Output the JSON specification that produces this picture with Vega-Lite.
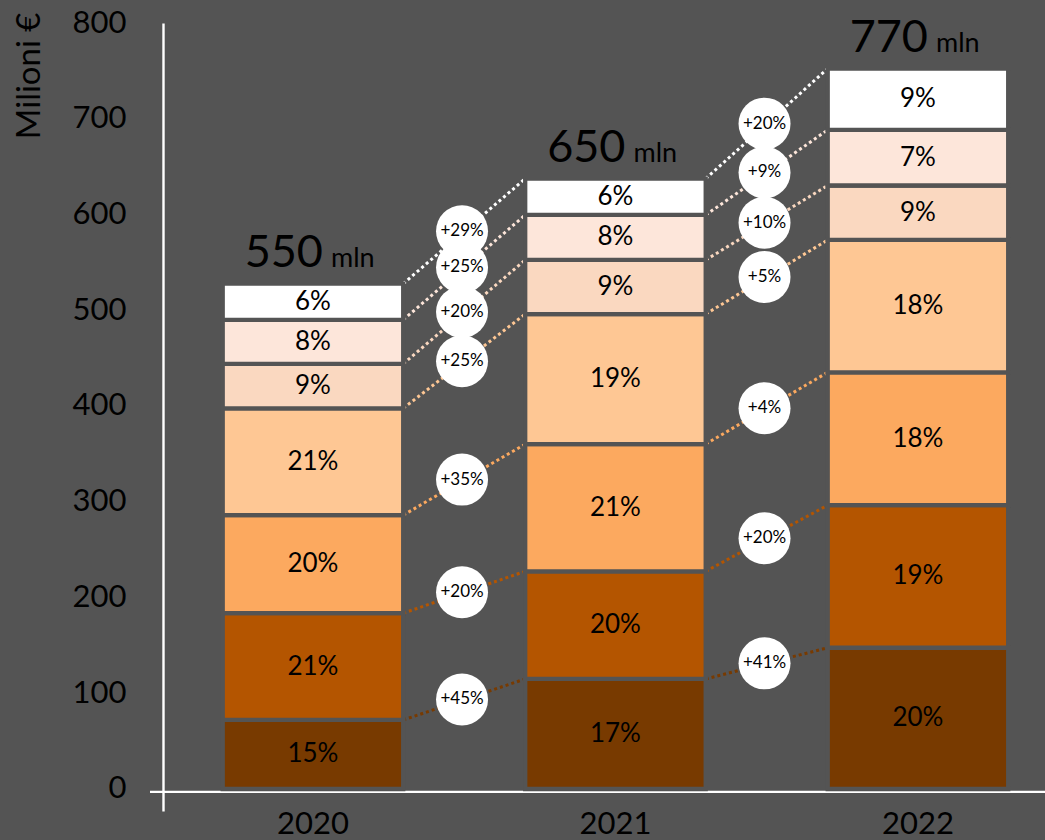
{
  "$schema": "https://vega.github.io/schema/vega-lite/v6.json",
  "autosize": {"type": "none"},
  "padding": {"left": 150, "top": 23, "right": 0, "bottom": 29},
  "width": 895,
  "height": 788,
  "background": "#545454",
  "config": {
    "view": {"stroke": null},
    "font": "Lato",
    "text": {"font": "Lato"},
    "axis": {"labelFont": "Lato", "titleFont": "Lato"},
    "axisX": {"domain": false, "ticks": false, "tickSize": 0, "grid": false, "labelAngle": 0, "labelFontSize": 31, "labelColor": "black", "labelPadding": -2},
    "axisY": {
      "grid": false, "ticks": false, "tickSize": 0, "offset": -13,
      "domainColor": "white", "domainWidth": 2.4,
      "labelFontSize": 31, "labelColor": "black", "labelPadding": 37,
      "titleFontSize": 33, "titleColor": "black", "titleFontWeight": "normal",
      "titleAngle": -90, "titleX": -124, "titleY": -11, "titleAlign": "right", "titleBaseline": "alphabetic"
    }
  },
  "datasets": {
    "segs": [
      {"year": "2020", "seg": 1, "value": 72.1, "pct": "15%", "growth": null},
      {"year": "2020", "seg": 2, "value": 111.5, "pct": "21%", "growth": null},
      {"year": "2020", "seg": 3, "value": 102.4, "pct": "20%", "growth": null},
      {"year": "2020", "seg": 4, "value": 111.6, "pct": "21%", "growth": null},
      {"year": "2020", "seg": 5, "value": 46.4, "pct": "9%", "growth": null},
      {"year": "2020", "seg": 6, "value": 46.0, "pct": "8%", "growth": null},
      {"year": "2020", "seg": 7, "value": 37.7, "pct": "6%", "growth": null},
      {"year": "2021", "seg": 1, "value": 114.9, "pct": "17%", "growth": "+45%"},
      {"year": "2021", "seg": 2, "value": 112.4, "pct": "20%", "growth": "+20%"},
      {"year": "2021", "seg": 3, "value": 132.9, "pct": "21%", "growth": "+35%"},
      {"year": "2021", "seg": 4, "value": 135.8, "pct": "19%", "growth": "+25%"},
      {"year": "2021", "seg": 5, "value": 56.5, "pct": "9%", "growth": "+20%"},
      {"year": "2021", "seg": 6, "value": 47.0, "pct": "8%", "growth": "+25%"},
      {"year": "2021", "seg": 7, "value": 37.9, "pct": "6%", "growth": "+29%"},
      {"year": "2022", "seg": 1, "value": 147.5, "pct": "20%", "growth": "+41%"},
      {"year": "2022", "seg": 2, "value": 148.9, "pct": "19%", "growth": "+20%"},
      {"year": "2022", "seg": 3, "value": 138.8, "pct": "18%", "growth": "+4%"},
      {"year": "2022", "seg": 4, "value": 138.2, "pct": "18%", "growth": "+5%"},
      {"year": "2022", "seg": 5, "value": 56.9, "pct": "9%", "growth": "+10%"},
      {"year": "2022", "seg": 6, "value": 58.0, "pct": "7%", "growth": "+9%"},
      {"year": "2022", "seg": 7, "value": 64.1, "pct": "9%", "growth": "+20%"}
    ],
    "totals": [
      {"year": "2020", "total": "550"},
      {"year": "2021", "total": "650"},
      {"year": "2022", "total": "770"}
    ]
  },
  "layer": [
    {
      "data": {"name": "segs"},
      "mark": {"type": "bar", "stroke": "#545454", "strokeWidth": 4.3},
      "encoding": {
        "x": {
          "field": "year", "type": "ordinal", "title": null,
          "scale": {"type": "band", "paddingInner": 0.4033, "paddingOuter": 0.181, "align": 0.664}
        },
        "y": {
          "field": "value", "type": "quantitative", "stack": "zero", "title": "Milioni €",
          "scale": {"domain": [-23, 800], "nice": false, "zero": false},
          "axis": {"values": [0, 100, 200, 300, 400, 500, 600, 700, 800]}
        },
        "color": {
          "field": "seg", "type": "ordinal",
          "scale": {"domain": [1, 2, 3, 4, 5, 6, 7], "range": ["#783A00", "#B45500", "#FCA95F", "#FEC794", "#FAD8C0", "#FDE6DA", "#FFFFFF"]},
          "legend": null
        },
        "order": {"field": "seg", "type": "quantitative", "sort": "ascending"}
      }
    },
    {
      "data": {"values": [{}]},
      "mark": {"type": "rule", "color": "white", "strokeWidth": 2.4},
      "encoding": {"y": {"datum": -3, "type": "quantitative", "title": "Milioni €"}}
    },
    {
      "data": {"name": "segs"},
      "transform": [
        {"stack": "value", "groupby": ["year"], "sort": [{"field": "seg", "order": "ascending"}], "as": ["y0", "y1"]},
        {"window": [{"op": "lag", "field": "y1", "as": "prevTop"}, {"op": "lag", "field": "year", "as": "prevYear"}], "groupby": ["seg"], "sort": [{"field": "year", "order": "ascending"}]},
        {"filter": "datum.prevYear != null"}
      ],
      "layer": [
        {
          "mark": {"type": "rule", "strokeWidth": 3, "strokeDash": [3, 3]},
          "encoding": {
            "x": {"field": "prevYear", "type": "ordinal", "bandPosition": 1, "title": null},
            "x2": {"field": "year", "bandPosition": 0},
            "y": {"field": "prevTop", "type": "quantitative", "title": "Milioni €"},
            "y2": {"field": "y1"},
            "color": {"field": "seg", "type": "ordinal", "legend": null}
          }
        },
        {
          "transform": [
            {"fold": ["prevTop", "y1"], "as": ["k", "v"]},
            {"aggregate": [{"op": "mean", "field": "v", "as": "mid"}], "groupby": ["year", "seg", "growth"]}
          ],
          "layer": [
            {
              "mark": {"type": "circle", "color": "white", "opacity": 1, "size": 2704},
              "encoding": {
                "x": {"field": "year", "type": "ordinal", "bandPosition": -0.35, "title": null},
                "y": {"field": "mid", "type": "quantitative", "title": "Milioni €"}
              }
            },
            {
              "mark": {"type": "text", "fontSize": 17, "color": "black"},
              "encoding": {
                "x": {"field": "year", "type": "ordinal", "bandPosition": -0.35, "title": null},
                "y": {"field": "mid", "type": "quantitative", "title": "Milioni €"},
                "text": {"field": "growth"}
              }
            }
          ]
        }
      ]
    },
    {
      "data": {"name": "segs"},
      "mark": {"type": "bar", "stroke": "#545454", "strokeWidth": 4.3},
      "encoding": {
        "x": {"field": "year", "type": "ordinal", "title": null},
        "y": {"field": "value", "type": "quantitative", "stack": "zero", "title": "Milioni €"},
        "color": {"field": "seg", "type": "ordinal", "legend": null},
        "order": {"field": "seg", "type": "quantitative", "sort": "ascending"}
      }
    },
    {
      "data": {"name": "segs"},
      "transform": [
        {"stack": "value", "groupby": ["year"], "sort": [{"field": "seg", "order": "ascending"}], "as": ["y0", "y1"]},
        {"fold": ["y0", "y1"], "as": ["k", "v"]},
        {"aggregate": [{"op": "mean", "field": "v", "as": "mid"}], "groupby": ["year", "seg", "pct"]}
      ],
      "mark": {"type": "text", "fontSize": 26, "color": "black"},
      "encoding": {
        "x": {"field": "year", "type": "ordinal", "title": null},
        "y": {"field": "mid", "type": "quantitative", "title": "Milioni €"},
        "text": {"field": "pct"}
      }
    },
    {
      "data": {"name": "segs"},
      "transform": [
        {"aggregate": [{"op": "sum", "field": "value", "as": "top"}], "groupby": ["year"]},
        {"lookup": "year", "from": {"data": {"name": "totals"}, "key": "year", "fields": ["total"]}}
      ],
      "layer": [
        {
          "mark": {"type": "text", "fontSize": 45, "color": "black", "align": "right", "baseline": "alphabetic", "dx": 10, "dy": -17},
          "encoding": {
            "x": {"field": "year", "type": "ordinal", "title": null},
            "y": {"field": "top", "type": "quantitative", "title": "Milioni €"},
            "text": {"field": "total"}
          }
        },
        {
          "mark": {"type": "text", "fontSize": 27, "color": "black", "align": "left", "baseline": "alphabetic", "dx": 18, "dy": -17},
          "encoding": {
            "x": {"field": "year", "type": "ordinal", "title": null},
            "y": {"field": "top", "type": "quantitative", "title": "Milioni €"},
            "text": {"value": "mln"}
          }
        }
      ]
    }
  ]
}
